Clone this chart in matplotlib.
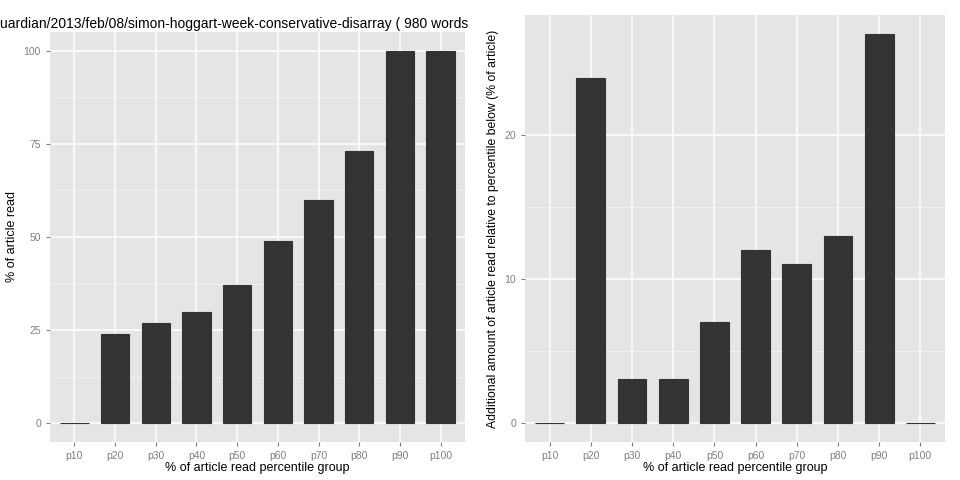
import matplotlib
matplotlib.use("Agg")
import matplotlib.pyplot as plt
plt.rcParams['font.family'] = ['Liberation Sans', 'DejaVu Sans']

groups = ["p10","p20","p30","p40","p50","p60","p70","p80","p90","p100"]
read_pct = [0,24,27,30,37,49,60,73,100,100]
additional = [0,24,3,3,7,12,11,13,27,0]
title = "uardian/2013/feb/08/simon-hoggart-week-conservative-disarray ( 980 words"

fig = plt.figure(figsize=(9.6,4.8), dpi=100)
ax1 = fig.add_axes([50/960, 1-442/480, 415/960, 410/480])
ax2 = fig.add_axes([525/960, 1-442/480, 420/960, 427/480])

def style(ax, vals, ylabel, ticks, ylsize):
    x = range(len(groups))
    ax.set_facecolor("#e5e5e5")
    ax.bar(x, vals, width=0.7, color="#333333", edgecolor="#333333", linewidth=0.8, zorder=3)
    ax.set_xticks(list(x))
    ax.set_xticklabels(groups)
    ax.set_xlim(-0.6, len(groups)-0.4)
    m = max(vals)
    ax.set_ylim(-0.05*m, 1.05*m)
    ax.set_yticks(ticks)
    minor = [(ticks[i]+ticks[i+1])/2 for i in range(len(ticks)-1)]
    ax.set_yticks(minor, minor=True)
    ax.grid(True, which="major", color="white", linewidth=1.1, zorder=0)
    ax.grid(True, which="minor", axis="y", color="#f2f2f2", linewidth=0.5, zorder=0)
    ax.set_axisbelow(True)
    for s in ax.spines.values():
        s.set_visible(False)
    ax.tick_params(axis="both", which="both", length=3, color="#7f7f7f", labelsize=7.5, labelcolor="#7f7f7f")
    ax.tick_params(which="minor", length=0)
    ax.set_xlabel("% of article read percentile group", fontsize=9, labelpad=1)
    ax.set_ylabel(ylabel, fontsize=ylsize, labelpad=4)

style(ax1, read_pct, "% of article read", [0,25,50,75,100], 9)
style(ax2, additional, "Additional amount of article read relative to percentile below (% of article)", [0,10,20], 8.8)
fig.text(0, 1-24/480, title, fontsize=10, va="center", ha="left")
fig.savefig("out.png")
